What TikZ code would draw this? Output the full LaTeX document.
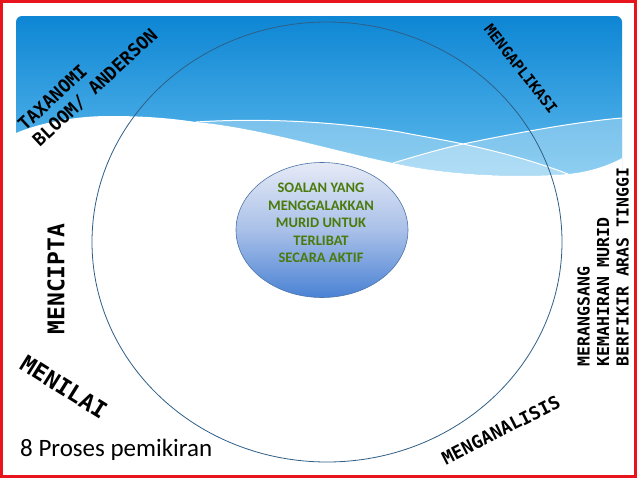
\documentclass[tikz,border=0pt]{standalone}
\usepackage{fontspec}
\setmainfont{DejaVu Sans}
\newfontfamily\comicfont{DejaVu Sans Mono}
\newfontfamily\calfont{Carlito}
\usetikzlibrary{shapes.geometric}
\definecolor{framered}{HTML}{E8141B}
\definecolor{bluetop}{HTML}{0E86D4}
\definecolor{bluebot}{HTML}{62BDEE}
\definecolor{ringcol}{HTML}{2F5F86}
\definecolor{greentext}{HTML}{4A7A0A}
\definecolor{coretop}{HTML}{E6EAF6}
\definecolor{coremid}{HTML}{A9C0E8}
\definecolor{corebot}{HTML}{4A82D4}
\definecolor{coreline}{HTML}{4C74A8}
\begin{document}
\begin{tikzpicture}[x=1pt,y=-1pt,
  lbl/.style={font=\comicfont\bfseries, text=black, inner sep=0pt},
  wave/.style={white, line width=1pt}]
\useasboundingbox (0,0) rectangle (638,479);
\fill[white] (0,0) rectangle (638,479);
% blue header
\shade[top color=bluetop, bottom color=bluebot, rounded corners=6pt] (16,16) rectangle (622,185);
% light bands
\fill[white, opacity=0.3] (196,122) .. controls (260,118) and (330,121) .. (400,132) .. controls (420,136) and (445,140) .. (463,144) .. controls (510,154) and (545,165) .. (568,174) .. controls (520,178) and (450,176) .. (393,163) .. controls (330,150) and (260,128) .. (196,122) -- cycle;
\fill[white, opacity=0.3] (393,163) .. controls (420,155) and (440,149) .. (463,144) .. controls (530,130) and (585,121) .. (622,118) -- (622,158) .. controls (610,166) and (590,172) .. (568,174) .. controls (520,178) and (450,176) .. (393,163) -- cycle;
% white region
\fill[white] (16,133) .. controls (45,121) and (80,116) .. (110,116) .. controls (150,116) and (175,119) .. (196,122) .. controls (260,128) and (330,150) .. (393,163) .. controls (450,176) and (520,178) .. (568,174) .. controls (590,172) and (610,165) .. (622,158) -- (622,200) -- (16,200) -- cycle;
% white lines
\draw[wave] (196,122) .. controls (260,118) and (330,121) .. (400,132) .. controls (420,136) and (445,140) .. (463,144) .. controls (510,154) and (545,165) .. (568,174);
\draw[wave] (393,163) .. controls (420,155) and (440,149) .. (463,144) .. controls (530,130) and (585,121) .. (622,118);
% big ring
\node[ellipse, draw=ringcol, line width=0.8pt, minimum width=470, minimum height=440, inner sep=0pt] (ring) at (327,242) {};
% core
\node[ellipse, draw=coreline, line width=0.6pt, minimum width=172, minimum height=135, inner sep=0pt,
  top color=coretop, bottom color=corebot, middle color=coremid] (core) at (322,230) {};
\node[font=\calfont\bfseries\fontsize{14.5}{17.5}\selectfont, text=greentext, align=center, inner sep=0pt] (coretext) at (321,223)
  {SOALAN YANG\\MENGGALAKKAN\\MURID UNTUK\\TERLIBAT\\SECARA AKTIF};
% labels
\node[lbl, font=\comicfont\bfseries\fontsize{18}{21.5}\selectfont, rotate=43, align=left] (taxo) at (88,80) {TAXANOMI\\BLOOM/ ANDERSON};
\node[lbl, font=\comicfont\bfseries\fontsize{15}{18}\selectfont, rotate=-52] (apply) at (521,69) {MENGAPLIKASI};
\node[lbl, font=\comicfont\bfseries\fontsize{16.5}{19.5}\selectfont, rotate=90, align=left] (hots) at (603,267) {MERANGSANG\\KEMAHIRAN MURID\\BERFIKIR ARAS TINGGI};
\node[lbl, font=\comicfont\bfseries\fontsize{23}{26}\selectfont, rotate=90] (create) at (56,279) {MENCIPTA};
\node[lbl, font=\comicfont\bfseries\fontsize{23}{26}\selectfont, rotate=-32] (evaluate) at (64,387) {MENILAI};
\node[lbl, font=\comicfont\bfseries\fontsize{18}{21}\selectfont, rotate=27] (analyse) at (501,430) {MENGANALISIS};
\node[font=\calfont\fontsize{25}{28}\selectfont, anchor=west, inner sep=0pt] (proc) at (20,450) {8 Proses pemikiran};
% frame
\draw[framered, line width=3pt] (1.5,1.5) rectangle (635.5,476.5);
\end{tikzpicture}
\end{document}
